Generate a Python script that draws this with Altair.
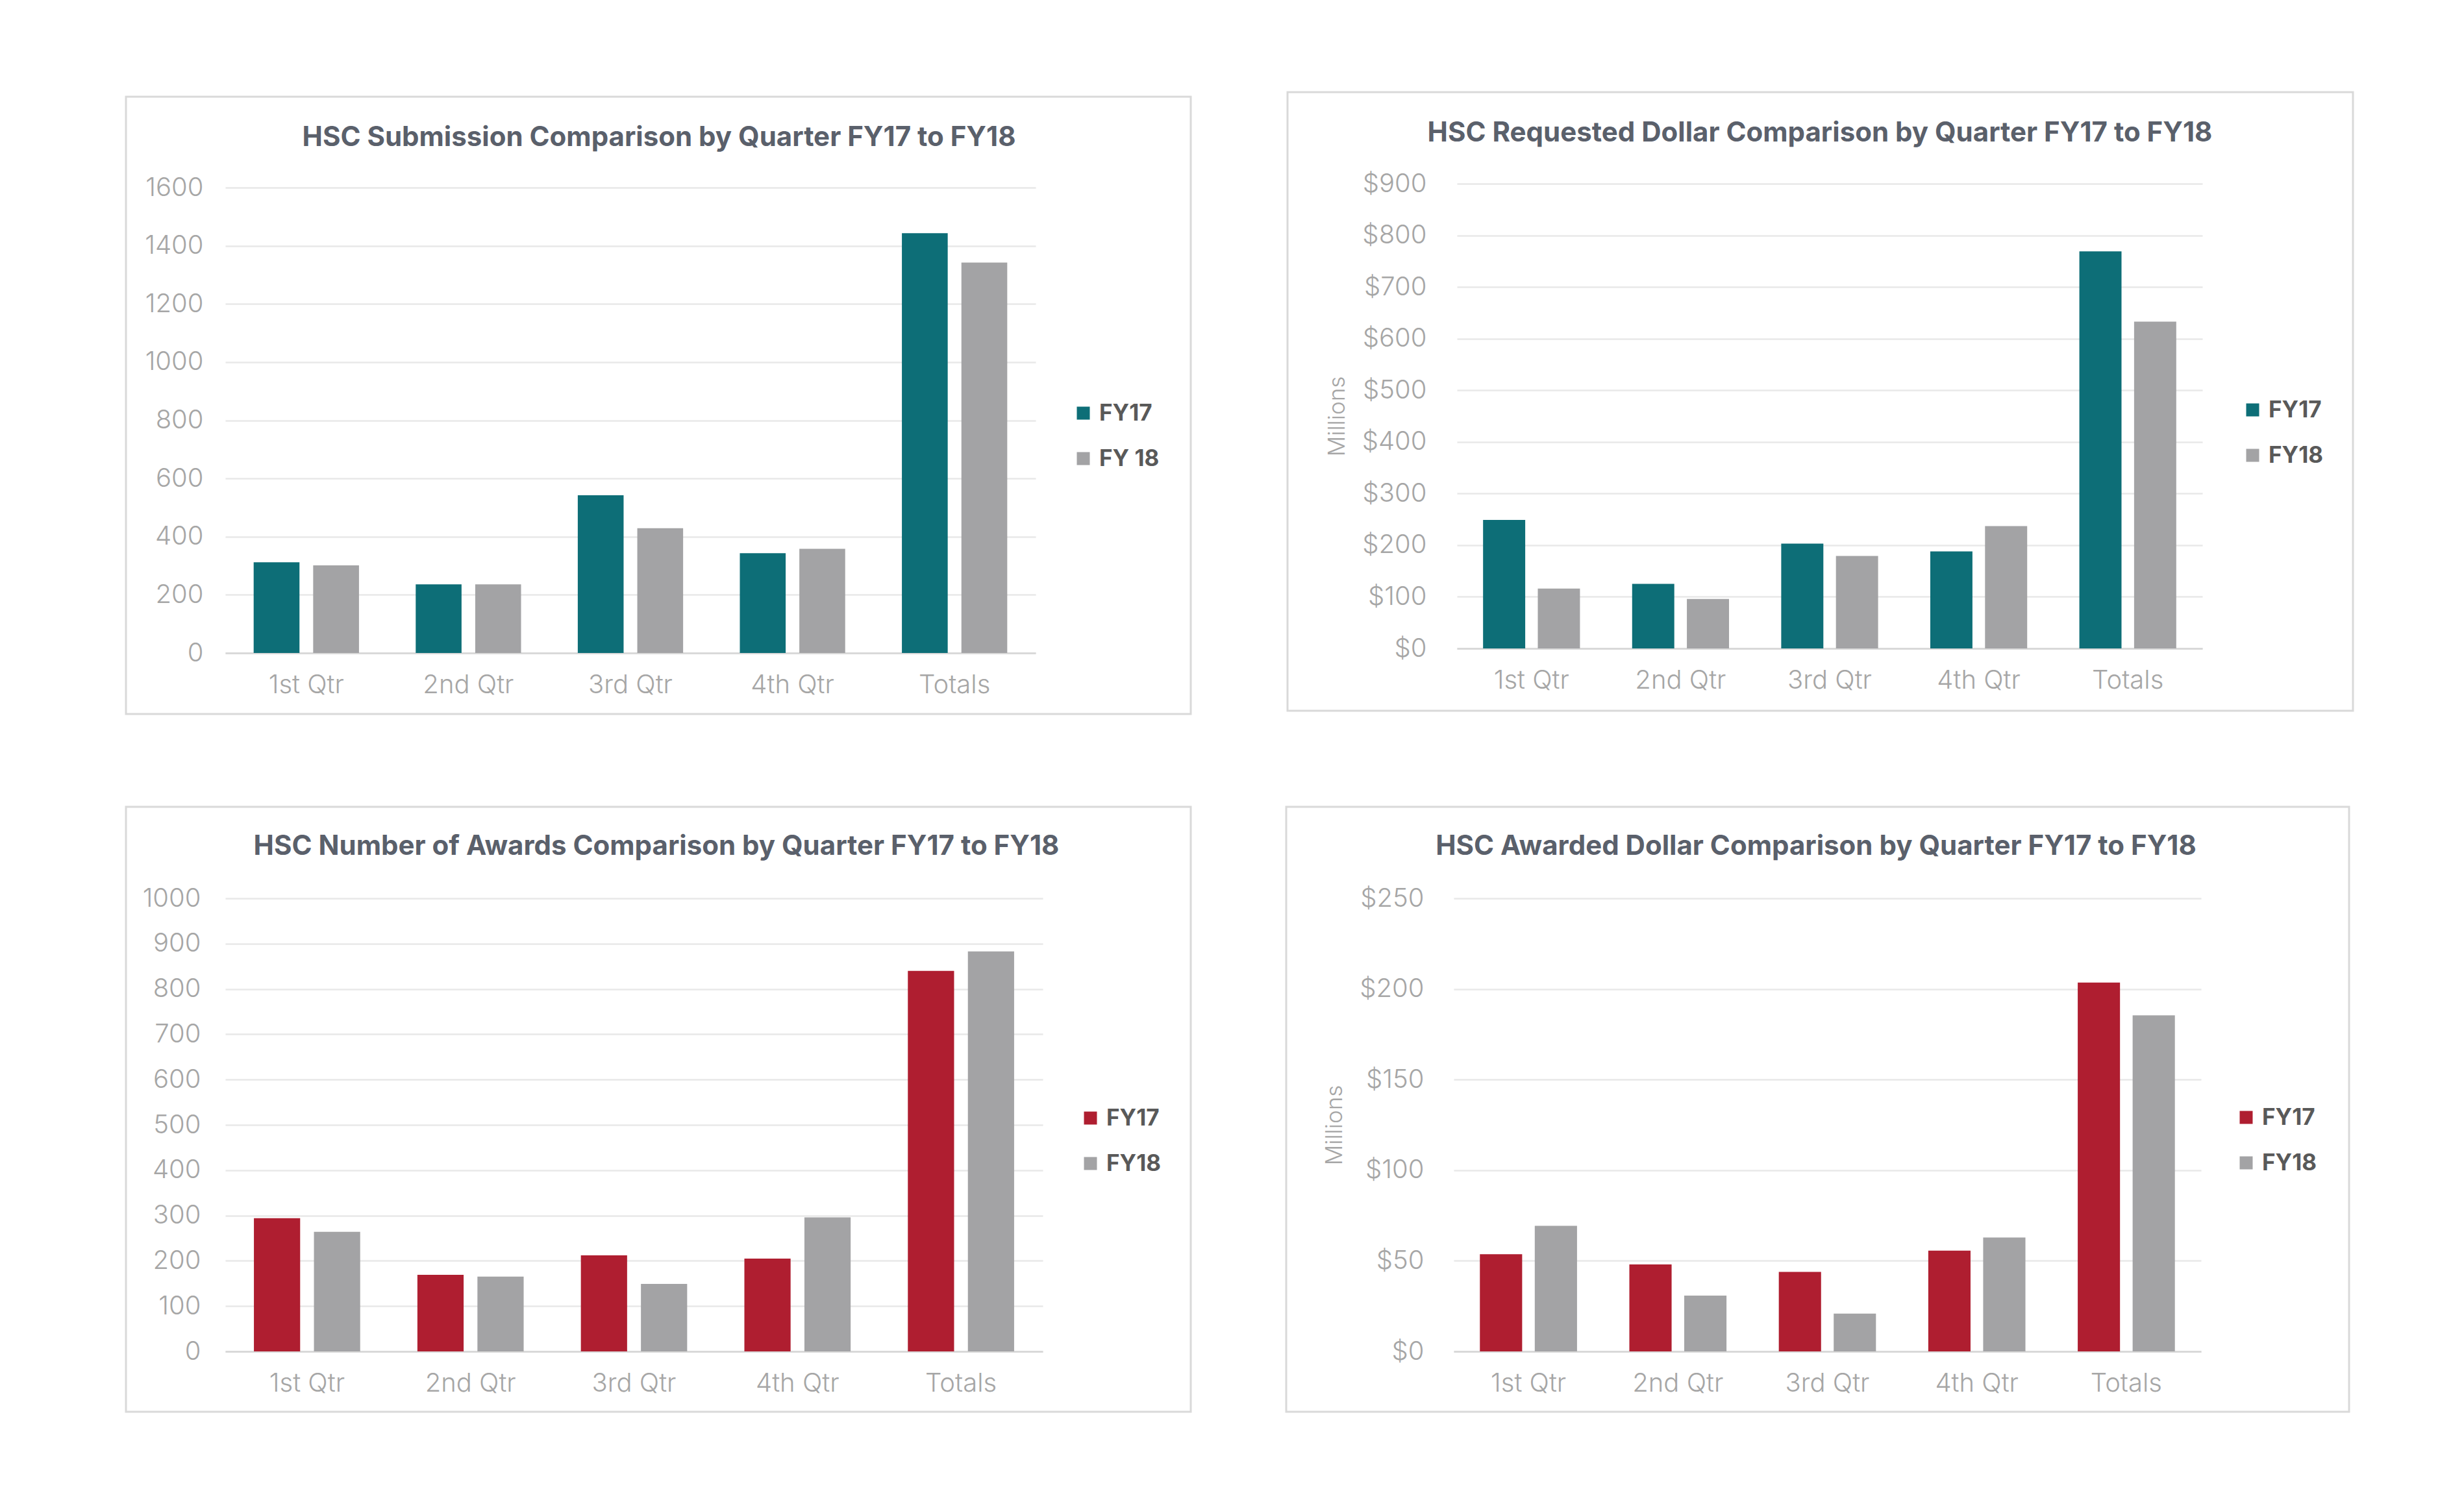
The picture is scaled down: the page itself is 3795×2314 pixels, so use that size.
import altair as alt
import pandas as pd

# ---------------- data ----------------
categories = ["1st Qtr", "2nd Qtr", "3rd Qtr", "4th Qtr", "Totals"]

sub_labels = ["FY17", "FY 18"]
sub_fy17 = [312, 236, 542, 343, 1443]
sub_fy18 = [301, 236, 429, 358, 1342]

req_labels = ["FY17", "FY18"]
req_fy17 = [249, 125, 203, 188, 769]
req_fy18 = [116, 96, 179, 237, 633]

awd_labels = ["FY17", "FY18"]
awd_fy17 = [294, 169, 212, 205, 840]
awd_fy18 = [264, 165, 149, 296, 883]

adl_labels = ["FY17", "FY18"]
adl_fy17 = [53.6, 48.0, 43.9, 55.6, 203.5]
adl_fy18 = [69.3, 30.8, 20.9, 62.9, 185.4]

sub_ticks = [0, 200, 400, 600, 800, 1000, 1200, 1400, 1600]
req_ticks = [0, 100, 200, 300, 400, 500, 600, 700, 800, 900]
awd_ticks = [0, 100, 200, 300, 400, 500, 600, 700, 800, 900, 1000]
adl_ticks = [0, 50, 100, 150, 200, 250]

TEAL = "#0D6E77"
RED = "#AF1E30"
GRAY = "#A3A3A5"
FONT = "Inter"
TICK_COLOR = "#A6A6A6"
TITLE_COLOR = "#5A606B"
LEGEND_COLOR = "#595959"
BORDER = "#D9D9D9"

X_PAD = 0.35


def panel(title, labels, fy17, fy18, colors, ticks, ytop, fmt, ytitle, w, h,
          border, title_xy, legend_xy, ylab_pad):
    rows = []
    for i, c in enumerate(categories):
        rows.append({"quarter": c, "series": labels[0], "value": fy17[i]})
        rows.append({"quarter": c, "series": labels[1], "value": fy18[i]})
    df = pd.DataFrame(rows)

    yaxis_kwargs = dict(values=ticks, domain=False, ticks=False,
                        labelPadding=ylab_pad, labelFontSize=40,
                        labelFontWeight=300,
                        labelColor=TICK_COLOR, labelFont=FONT,
                        gridColor="#E8E8E8", gridWidth=2.5,
                        format=fmt)
    if ytitle:
        yaxis_kwargs.update(title=ytitle, titleFont=FONT, titleFontSize=35,
                            titleFontWeight=300, titleColor=TICK_COLOR,
                            titlePadding=20)
    else:
        yaxis_kwargs["title"] = None

    bars = alt.Chart(df).mark_bar().encode(
        x=alt.X("quarter:N", sort=categories,
                scale=alt.Scale(paddingInner=X_PAD, paddingOuter=X_PAD / 2),
                axis=alt.Axis(title=None, labelAngle=0, ticks=False, grid=False,
                              domainColor=BORDER, domainWidth=3,
                              labelPadding=29, labelFontSize=40,
                              labelFontWeight=300,
                              labelColor=TICK_COLOR, labelFont=FONT)),
        xOffset=alt.XOffset("series:N", sort=labels,
                            scale=alt.Scale(paddingInner=0.23, paddingOuter=0)),
        y=alt.Y("value:Q", scale=alt.Scale(domain=[0, ytop], nice=False),
                axis=alt.Axis(**yaxis_kwargs)),
        color=alt.Color("series:N", sort=labels,
                        scale=alt.Scale(domain=labels, range=colors),
                        legend=alt.Legend(title=None, orient="none", direction="vertical",
                                          legendX=legend_xy[0], legendY=legend_xy[1],
                                          symbolType="square", symbolSize=400,
                                          symbolStrokeWidth=0, labelFont=FONT,
                                          labelFontSize=35, labelFontWeight="bold",
                                          labelColor=LEGEND_COLOR, labelOffset=7,
                                          rowPadding=34, padding=0)),
    )

    frame = alt.Chart(alt.Data(values=[{"k": 1}])).mark_rect(
        fill="white", fillOpacity=0, stroke=BORDER, strokeWidth=3
    ).encode(
        x=alt.value(border[0]), x2=alt.value(border[1]),
        y=alt.value(border[2]), y2=alt.value(border[3]),
    )

    ttl = alt.Chart(alt.Data(values=[{"t": title}])).mark_text(
        font=FONT, fontSize=42, fontWeight="bold", color=TITLE_COLOR,
        align="center", baseline="alphabetic"
    ).encode(text="t:N", x=alt.value(title_xy[0]), y=alt.value(title_xy[1]))

    return alt.layer(frame, bars, ttl).properties(width=w, height=h)


# top-left plot is drawn 6px taller so that its 1600 gridline sits 6px below
# the top-right $900 gridline, as in the reference
tl = panel("HSC Submission Comparison by Quarter FY17 to FY18", sub_labels,
           sub_fy17, sub_fy18, [TEAL, GRAY], sub_ticks, 1600 * 723 / 717, "d", None,
           1248, 723, (-153, 1487, -134, 817), (668, -58), (1304, 336), 34)
tr = panel("HSC Requested Dollar Comparison by Quarter FY17 to FY18", req_labels,
           req_fy17, req_fy18, [TEAL, GRAY], req_ticks, 900, "$.0f", "Millions",
           1148, 716, (-261, 1380, -141, 812), (559, -65), (1208, 331), 47)
bl = panel("HSC Number of Awards Comparison by Quarter FY17 to FY18", awd_labels,
           awd_fy17, awd_fy18, [RED, GRAY], awd_ticks, 1000, "d", None,
           1259, 698, (-153, 1487, -141, 791), (664, -67), (1315, 321), 38)
br = panel("HSC Awarded Dollar Comparison by Quarter FY17 to FY18", adl_labels,
           adl_fy17, adl_fy18, [RED, GRAY], adl_ticks, 250, "$.0f", "Millions",
           1151, 698, (-258, 1379, -141, 791), (558, -67), (1203, 320), 46)

top = alt.hconcat(tl, tr, spacing=145).resolve_scale(
    color="independent", xOffset="independent")
bottom = alt.hconcat(bl, br, spacing=143).resolve_scale(
    color="independent", xOffset="independent")

chart = alt.vconcat(top, bottom, spacing=139).resolve_scale(
    color="independent", xOffset="independent"
).properties(
    padding={"left": 184, "top": 132, "right": 10, "bottom": 10},
    background="white",
).configure_view(stroke="transparent")

chart.save("out.html", embed_options={"renderer": "svg", "actions": False})
